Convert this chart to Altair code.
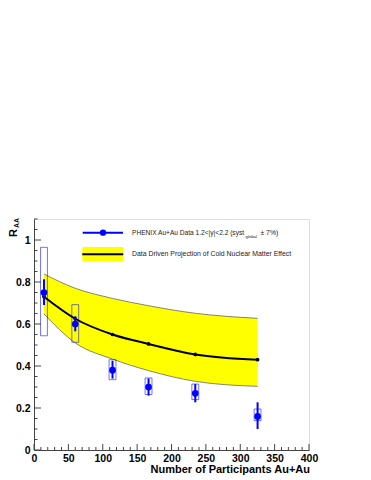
import altair as alt
import pandas as pd

# ---- data ----
npart = [14.5, 60.0, 114.2, 166.6, 234.6, 325.2]
raa = [0.75, 0.60, 0.38, 0.30, 0.27, 0.16]
stat_lo = [0.69, 0.565, 0.340, 0.259, 0.227, 0.100]
stat_hi = [0.813, 0.637, 0.425, 0.341, 0.314, 0.227]
syst_lo = [0.544, 0.513, 0.335, 0.264, 0.240, 0.140]
syst_hi = [0.965, 0.692, 0.430, 0.343, 0.314, 0.195]
box_half = 5.0

proj = [0.730, 0.625, 0.550, 0.505, 0.455, 0.430]
band_hi = [0.838, 0.770, 0.722, 0.687, 0.651, 0.627]
band_lo = [0.648, 0.510, 0.433, 0.378, 0.327, 0.303]

x_major = [0, 50, 100, 150, 200, 250, 300, 350, 400]
x_minor = [v for v in range(0, 401, 10) if v % 50 != 0]
y_major = [0, 0.2, 0.4, 0.6, 0.8, 1.0]
y_minor = [round(i * 0.05, 2) for i in range(0, 23) if i % 4 != 0]

W, H = 275, 231
FONT = "Liberation Sans"
BLUE = "#0000ff"

data = pd.DataFrame({
    "npart": npart, "raa": raa, "slo": stat_lo, "shi": stat_hi,
    "blo": syst_lo, "bhi": syst_hi,
    "bx0": [n - box_half for n in npart], "bx1": [n + box_half for n in npart],
})
proj_df = pd.DataFrame({"npart": npart, "proj": proj, "hi": band_hi, "lo": band_lo})

xs = alt.Scale(domain=[0, 400], nice=False, zero=False)
ys = alt.Scale(domain=[0, 1.1], nice=False, zero=False)

X_AX = alt.Axis(values=x_major, title=None, tickSize=0,
                labelFont=FONT, labelFontWeight="bold", labelFontSize=10.5, labelColor="black",
                labelPadding=3, labelOverlap=False, labelFlush=False, grid=False, domainColor="#444")
Y_AX = alt.Axis(values=y_major, format=".1~f", title=None, tickSize=0,
                labelFont=FONT, labelFontWeight="bold", labelFontSize=10.5, labelColor="black",
                labelPadding=4, labelOverlap=False, labelFlush=False, grid=False, domainColor="#444")


def XE(f):
    return alt.X(f, scale=xs, axis=X_AX)


def YE(f):
    return alt.Y(f, scale=ys, axis=Y_AX)


band = alt.Chart(proj_df).mark_area(color="#ffff00", interpolate="monotone").encode(
    x=XE("npart:Q"), y=YE("lo:Q"), y2="hi:Q")
band_hi_l = alt.Chart(proj_df).mark_line(color="#666", strokeWidth=0.8, interpolate="monotone").encode(
    x=XE("npart:Q"), y=YE("hi:Q"))
band_lo_l = alt.Chart(proj_df).mark_line(color="#666", strokeWidth=0.8, interpolate="monotone").encode(
    x=XE("npart:Q"), y=YE("lo:Q"))
proj_line = alt.Chart(proj_df).mark_line(color="black", strokeWidth=2, interpolate="monotone").encode(
    x=XE("npart:Q"), y=YE("proj:Q"))
proj_pts = alt.Chart(proj_df).mark_point(color="black", filled=True, size=14, opacity=1).encode(
    x=XE("npart:Q"), y=YE("proj:Q"))

boxes = alt.Chart(data).mark_rect(fillOpacity=0, stroke=BLUE, strokeOpacity=0.55, strokeWidth=1).encode(
    x=XE("bx0:Q"), x2="bx1:Q", y=YE("blo:Q"), y2="bhi:Q")
errs = alt.Chart(data).mark_rule(color=BLUE, strokeWidth=2).encode(
    x=XE("npart:Q"), y=YE("slo:Q"), y2="shi:Q")
pts = alt.Chart(data).mark_point(color=BLUE, filled=True, size=45, opacity=1).encode(
    x=XE("npart:Q"), y=YE("raa:Q"))

# inward ticks
xmaj = alt.Chart(pd.DataFrame({"v": x_major})).mark_rule(color="#444", strokeWidth=1).encode(
    x=XE("v:Q"), y=alt.value(H), y2=alt.value(H - 6))
xmin = alt.Chart(pd.DataFrame({"v": x_minor})).mark_rule(color="#444", strokeWidth=1).encode(
    x=XE("v:Q"), y=alt.value(H), y2=alt.value(H - 3))
ymaj = alt.Chart(pd.DataFrame({"v": y_major})).mark_rule(color="#444", strokeWidth=1).encode(
    y=YE("v:Q"), x=alt.value(0), x2=alt.value(7))
ymin = alt.Chart(pd.DataFrame({"v": y_minor})).mark_rule(color="#444", strokeWidth=1).encode(
    y=YE("v:Q"), x=alt.value(0), x2=alt.value(3.5))

one = pd.DataFrame({"a": [0]})


def txt(t, x, y, size, weight="normal", align="left", baseline="middle", angle=0, color="black"):
    kw = dict(text=t, font=FONT, fontSize=size, fontWeight=weight, align=align,
              baseline=baseline, color=color)
    if angle:
        kw["angle"] = angle
    return alt.Chart(one).mark_text(**kw).encode(x=alt.value(x), y=alt.value(y))


xtitle = txt("Number of Participants Au+Au", W + 1, 254, 11, weight="bold", align="right",
             baseline="alphabetic")
ytitle_r = txt("R", -17, 18, 11, weight="bold", baseline="alphabetic", angle=270)
ytitle_s = txt("AA", -15.5, 9, 7, weight="bold", baseline="alphabetic", angle=270)

# legend
leg_line1 = alt.Chart(one).mark_rule(color=BLUE, strokeWidth=2).encode(
    x=alt.value(48.7), x2=alt.value(89), y=alt.value(13.7))
leg_pt1 = alt.Chart(one).mark_point(color=BLUE, filled=True, size=40, opacity=1).encode(
    x=alt.value(69), y=alt.value(13.7))
leg_t1a = txt("PHENIX Au+Au Data 1.2<|y|<2.2 (syst", 98, 13.7, 6.6, color="#222")
leg_t1b = txt("global", 211.5, 17.5, 4.3, color="#222")
leg_t1c = txt("± 7%)", 226.5, 13.7, 6.8, color="#222")
leg_rect = alt.Chart(one).mark_rect(color="#ffff00").encode(
    x=alt.value(48.3), x2=alt.value(89.3), y=alt.value(28), y2=alt.value(42.3))
leg_line2 = alt.Chart(one).mark_rule(color="black", strokeWidth=2).encode(
    x=alt.value(48.3), x2=alt.value(89.3), y=alt.value(35.3))
leg_t2 = txt("Data Driven Projection of Cold Nuclear Matter Effect", 98, 35.3, 6.9, color="#222")

chart = alt.layer(
    band, band_hi_l, band_lo_l, boxes, proj_line, proj_pts, errs, pts,
    xmaj, xmin, ymaj, ymin, xtitle, ytitle_r, ytitle_s,
    leg_line1, leg_pt1, leg_t1a, leg_t1b, leg_t1c, leg_rect, leg_line2, leg_t2,
).properties(
    width=W, height=H, autosize="none",
    padding={"left": 26, "top": 211, "right": 50, "bottom": 30},
).configure_view(stroke="#444", strokeWidth=1).configure(background="white")

chart.save("out.html", embed_options={"renderer": "svg", "actions": False})
